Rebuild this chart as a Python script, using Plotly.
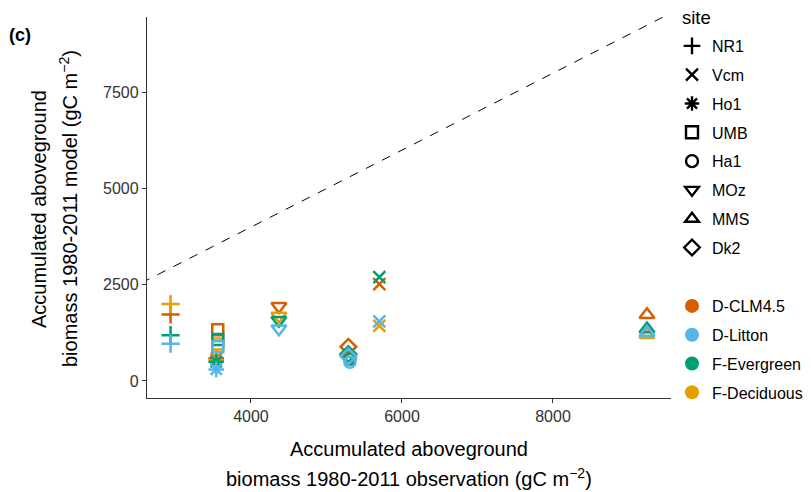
import plotly.graph_objects as go

sites = ["NR1", "Vcm", "Ho1", "UMB", "Ha1", "MOz", "MMS", "Dk2"]
site_symbols = ["cross-thin-open", "x-thin-open", "asterisk-open", "square-open",
                "circle-open", "triangle-down-open", "triangle-up-open", "diamond-open"]
site_sizes = [13, 12, 13, 11, 11, 13, 13, 12]
observed = [2935, 5700, 3540, 3560, 5310, 4370, 9245, 5290]

models = ["D-CLM4.5", "D-Litton", "F-Evergreen", "F-Deciduous"]
model_colors = ["#D55E00", "#56B4E9", "#009E73", "#E69F00"]
d_clm45 = [1730, 2520, 590, 1330, 620, 1940, 1720, 890]
d_litton = [970, 1550, 300, 890, 490, 1360, 1260, 640]
f_evergreen = [1190, 2700, 500, 1080, 570, 1580, 1350, 700]
f_deciduous = [2000, 1430, 540, 960, 560, 1690, 1200, 680]
model_values = [d_clm45, d_litton, f_evergreen, f_deciduous]

x_range = [2623, 9563]
y_range = [-442, 9460]
x_ticks = [4000, 6000, 8000]
y_ticks = [0, 2500, 5000, 7500]

FONT = "Liberation Sans, Arial, sans-serif"
W, H = 811, 492
ML, MR, MT, MB = 147, 140, 17, 94
PW, PH = W - ML - MR, H - MT - MB


def px(x):
    return (x - ML) / PW


def py(y):
    return (H - MB - y) / PH


fig = go.Figure()

# 1:1 line
fig.add_trace(go.Scatter(x=[0, 10000], y=[0, 10000], mode="lines",
                         line=dict(color="black", width=1, dash="dash"),
                         showlegend=False, hoverinfo="skip"))

draw_order = [0, 3, 2, 1]
for mi in draw_order:
    fig.add_trace(go.Scatter(
        x=observed, y=model_values[mi], mode="markers",
        marker=dict(symbol=site_symbols, size=site_sizes, color=model_colors[mi],
                    opacity=1, line=dict(color=model_colors[mi], width=2.5)),
        showlegend=False, name=models[mi]))

# site legend
for i, s in enumerate(sites):
    fig.add_trace(go.Scatter(
        x=[None], y=[None], mode="markers", name=s, legend="legend",
        legendgroup="s" + s,
        marker=dict(symbol=site_symbols[i], size=12, color="black", opacity=1,
                    line=dict(color="black", width=2.4))))

# model legend
for mi, m in enumerate(models):
    fig.add_trace(go.Scatter(
        x=[None], y=[None], mode="markers", name=m, legend="legend2",
        legendgroup="m" + m,
        marker=dict(symbol="circle", size=14, color=model_colors[mi], opacity=1)))

axis_common = dict(showgrid=False, zeroline=False, showline=True, linecolor="#333333",
                   linewidth=1.3, ticks="outside", ticklen=4, tickcolor="#333333",
                   tickfont=dict(family=FONT, size=16, color="#333333"))

fig.update_layout(
    width=W, height=H,
    margin=dict(l=ML, r=MR, t=MT, b=MB, autoexpand=False),
    paper_bgcolor="white", plot_bgcolor="white",
    font=dict(family=FONT, size=16, color="black"),
    xaxis=dict(range=x_range, tickvals=x_ticks, **axis_common),
    yaxis=dict(range=y_range, tickvals=y_ticks, **axis_common),
    legend=dict(x=px(672), y=py(29), xanchor="left", yanchor="top",
                font=dict(size=16), traceorder="grouped", tracegroupgap=5,
                itemwidth=30, bgcolor="rgba(0,0,0,0)", maxheight=1.0),
    legend2=dict(x=px(672), y=py(289), xanchor="left", yanchor="top",
                 font=dict(size=16), traceorder="grouped", tracegroupgap=5,
                 itemwidth=30, bgcolor="rgba(0,0,0,0)", maxheight=1.0),
    annotations=[
        dict(text="<b>(c)</b>", x=px(7), y=py(35), xref="paper", yref="paper",
             showarrow=False, font=dict(size=18), xanchor="left", yanchor="middle"),
        dict(text="site", x=px(680), y=py(18), xref="paper", yref="paper",
             showarrow=False, font=dict(size=18.5), xanchor="left", yanchor="middle"),
        dict(text="Accumulated aboveground", xref="paper", yref="paper",
             x=px(39), y=py(209), textangle=-90, showarrow=False,
             font=dict(size=20), xanchor="center", yanchor="middle"),
        dict(text="biomass 1980-2011 model (gC m<sup>−2</sup>)", xref="paper", yref="paper",
             x=px(68), y=py(209), textangle=-90, showarrow=False,
             font=dict(size=20), xanchor="center", yanchor="middle"),
        dict(text="Accumulated aboveground", xref="paper", yref="paper",
             x=px(409), y=py(449), showarrow=False,
             font=dict(size=20), xanchor="center", yanchor="middle"),
        dict(text="biomass 1980-2011 observation (gC m<sup>−2</sup>)", xref="paper", yref="paper",
             x=px(409), y=py(477), showarrow=False,
             font=dict(size=20), xanchor="center", yanchor="middle"),
    ],
)

fig.write_html("out.html", config={"displayModeBar": False},
               post_script="document.body.style.margin='0';document.body.style.overflow='hidden';")
